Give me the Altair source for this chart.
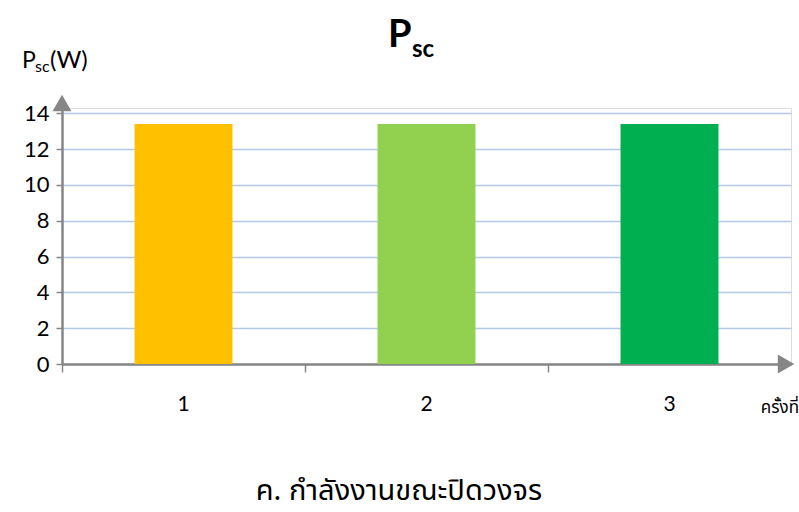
import altair as alt
import pandas as pd

# Short-circuit power for each trial
trials = ["1", "2", "3"]
power_w = [13.4, 13.4, 13.4]
bar_colors = ["#FFC000", "#92D050", "#00B050"]

y_ticks = [0, 2, 4, 6, 8, 10, 12, 14]

title_main = "P"
title_sub = "sc"
ylab_main = "P"
ylab_sub = "sc"
ylab_unit = "(W)"
x_unit = "ครั้งที่"
caption = "ค. กำลังงานขณะปิดวงจร"

W, H = 729, 256
LAT = "Lato"
THAI = "Noto Sans Thai, Noto Sans, DejaVu Sans, sans-serif"
AXIS_GRAY = "#868686"

df = pd.DataFrame({"trial": trials, "power": power_w, "color": bar_colors})

x_enc = alt.X(
    "trial:N",
    sort=trials,
    scale=alt.Scale(paddingInner=0, paddingOuter=0),
    axis=alt.Axis(
        title=None,
        labelAngle=0,
        labelFont=LAT,
        labelFontSize=21,
        labelColor="#000000",
        labelPadding=21,
        bandPosition=0,
        tickColor=AXIS_GRAY,
        tickWidth=1.5,
        tickSize=8,
        domainColor=AXIS_GRAY,
        domainWidth=2.5,
        grid=False,
    ),
)

y_enc = alt.Y(
    "power:Q",
    scale=alt.Scale(domain=[0, 14.3], nice=False, zero=True),
    axis=alt.Axis(
        title=None,
        values=y_ticks,
        labelFont=LAT,
        labelFontSize=22,
        labelColor="#000000",
        labelPadding=7,
        tickColor=AXIS_GRAY,
        tickWidth=1.5,
        tickSize=6,
        domainColor=AXIS_GRAY,
        domainWidth=2.5,
        gridColor="#B4C9E8",
        gridWidth=1.5,
    ),
)

bars = alt.Chart(df).mark_bar(width={"band": 0.403}).encode(
    x=x_enc,
    y=y_enc,
    color=alt.Color("color:N", scale=None, legend=None),
)

# Arrow heads at the ends of both axes
arrow_up = alt.Chart(pd.DataFrame({"a": [0]})).mark_point(
    shape="triangle-up", filled=True, color=AXIS_GRAY, opacity=1, size=360
).encode(x=alt.value(0), y=alt.value(-5))
arrow_right = alt.Chart(pd.DataFrame({"a": [0]})).mark_point(
    shape="triangle-right", filled=True, color=AXIS_GRAY, opacity=1, size=360
).encode(x=alt.value(W - 5), y=alt.value(H))


def label(text, x, y, size, font=LAT, weight="normal", align="left", baseline="alphabetic"):
    return alt.Chart(pd.DataFrame({"t": [text]})).mark_text(
        font=font, fontSize=size, fontWeight=weight, align=align,
        baseline=baseline, color="#000000",
    ).encode(text="t:N", x=alt.value(x), y=alt.value(y))


texts = [
    label(title_main, 326, -61, 38, weight="bold"),
    label(title_sub, 350, -51, 24, weight="bold"),
    label(ylab_main, -40, -40, 23),
    label(ylab_sub, -27, -36, 16),
    label(ylab_unit, -12, -40, 24),
    label(x_unit, 737, 305, 17, font=THAI, align="right"),
    label(caption, 337, 392, 29, font=THAI, align="center"),
]

chart = alt.layer(bars, arrow_up, arrow_right, *texts).properties(
    width=W,
    height=H,
    autosize=alt.AutoSizeParams(type="none"),
    padding={"left": 62, "top": 108, "right": 8, "bottom": 148},
).configure_view(stroke=None).configure(background="#FFFFFF")

chart.save("out.html", embed_options={"renderer": "svg", "actions": False})
